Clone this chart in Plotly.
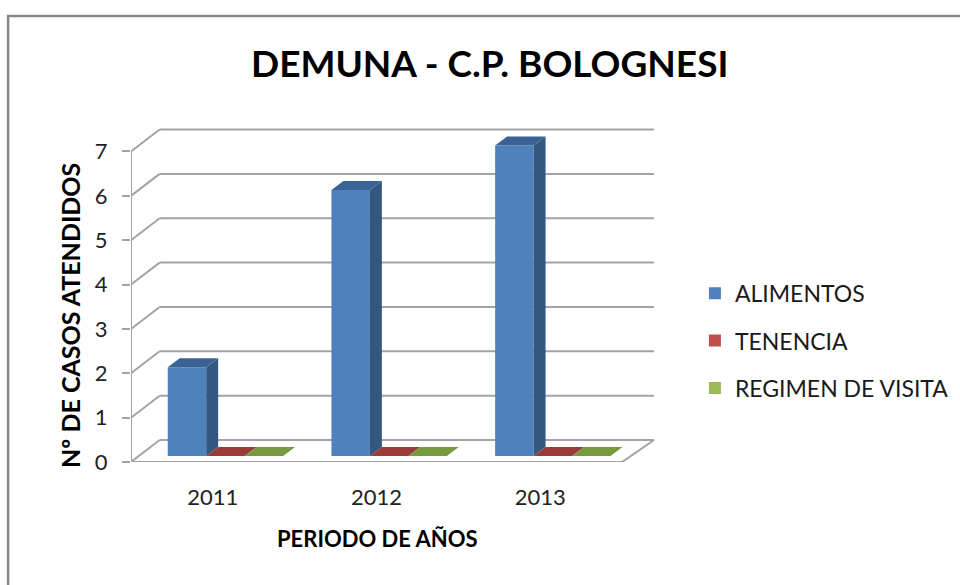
import plotly.graph_objects as go

# ---------------- data ----------------
categories = ["2011", "2012", "2013"]
series_names = ["ALIMENTOS", "TENENCIA", "REGIMEN DE VISITA"]
alimentos = [2, 6, 7]
tenencia = [0, 0, 0]
regimen_visita = [0, 0, 0]
y_ticks = [0, 1, 2, 3, 4, 5, 6, 7]

# ---------------- style ----------------
front_colors = ["#4F81BD", "#C0504D", "#9BBB59"]
side_colors = ["#34577F", "#8A3432", "#6C8537"]
top_colors = ["#3B6295", "#9B3B39", "#789A3E"]
grid_color = "#A3A3A3"
FONT = "Lato"

W_DEPTH_U, W_DEPTH_V = 0.175, 0.495      # full wall depth (x units, y units)
B_OFF_U, B_OFF_V = 0.047, 0.134          # bar front plane offset
B_DEP_U, B_DEP_V = 0.073, 0.203          # bar depth
BAR_W = 0.235
GROUP_SHIFT = 0.03

values = [alimentos, tenencia, regimen_visita]
n_cat = len(categories)
ymax = max(y_ticks)

fig = go.Figure()

# front faces (real bars)
for s, (name, vals) in enumerate(zip(series_names, values)):
    xs = [c + 0.5 + GROUP_SHIFT + (s - 1) * BAR_W + B_OFF_U for c in range(n_cat)]
    fig.add_trace(go.Bar(
        x=xs, y=vals, base=B_OFF_V, width=BAR_W, name=name,
        marker=dict(color=front_colors[s], line=dict(width=0)),
        legendgroup=name, hoverinfo="skip"))

# side and top faces
for s, vals in enumerate(values):
    sx, sy, tx, ty = [], [], [], []
    for c in range(n_cat):
        xc = c + 0.5 + GROUP_SHIFT + (s - 1) * BAR_W + B_OFF_U
        xl, xr = xc - BAR_W / 2, xc + BAR_W / 2
        b = B_OFF_V
        t = b + vals[c]
        if vals[c] > 0:
            sx += [xr, xr, xr + B_DEP_U, xr + B_DEP_U, xr, None]
            sy += [b, t, t + B_DEP_V, b + B_DEP_V, b, None]
        tx += [xl, xr, xr + B_DEP_U, xl + B_DEP_U, xl, None]
        ty += [t, t, t + B_DEP_V, t + B_DEP_V, t, None]
    if sx:
        fig.add_trace(go.Scatter(x=sx, y=sy, mode="lines", fill="toself",
                                 fillcolor=side_colors[s], line=dict(width=0),
                                 showlegend=False, hoverinfo="skip"))
    fig.add_trace(go.Scatter(x=tx, y=ty, mode="lines", fill="toself",
                             fillcolor=top_colors[s], line=dict(width=0),
                             showlegend=False, hoverinfo="skip"))

# walls / gridlines (shapes below the traces)
shapes = []
gl = dict(color=grid_color, width=2)
for k in y_ticks:
    shapes.append(dict(type="line", xref="x", yref="y", layer="below",
                       x0=0, y0=k, x1=W_DEPTH_U, y1=k + W_DEPTH_V, line=gl))
    shapes.append(dict(type="line", xref="x", yref="y", layer="below",
                       x0=W_DEPTH_U, y0=k + W_DEPTH_V, x1=n_cat + W_DEPTH_U + 0.02,
                       y1=k + W_DEPTH_V, line=gl))
# front vertical axis
shapes.append(dict(type="line", xref="x", yref="y", layer="below",
                   x0=0, y0=0, x1=0, y1=ymax, line=gl))
# floor front and right edges
shapes.append(dict(type="line", xref="x", yref="y", layer="below",
                   x0=0, y0=0, x1=n_cat, y1=0, line=gl))
shapes.append(dict(type="line", xref="x", yref="y", layer="below",
                   x0=n_cat, y0=0, x1=n_cat + W_DEPTH_U + 0.02, y1=W_DEPTH_V, line=gl))
# chart border
shapes.append(dict(type="rect", xref="paper", yref="paper", layer="below",
                   x0=-0.231, y0=-1.5, x1=2.0, y1=1.289,
                   line=dict(color="#878787", width=2.5)))

annotations = [
    dict(text="<b>DEMUNA - C.P. BOLOGNESI</b>", xref="paper", yref="paper",
         x=0.673, y=1.156, showarrow=False, xanchor="center", yanchor="middle",
         font=dict(family=FONT, size=37, color="#000000")),
    dict(text="<b>Nº DE CASOS ATENDIDOS</b>", xref="paper", yref="paper",
         x=-0.1147, y=0.425, showarrow=False, textangle=-90,
         xanchor="center", yanchor="middle",
         font=dict(family=FONT, size=25, color="#000000")),
    dict(text="<b>PERIODO DE AÑOS</b>", xref="paper", yref="paper",
         x=0.4633, y=-0.2197, showarrow=False, xanchor="center", yanchor="middle",
         font=dict(family=FONT, size=22, color="#000000")),
]

fig.update_layout(
    width=960, height=585,
    margin=dict(l=131, r=297, t=116, b=123, autoexpand=False),
    paper_bgcolor="white", plot_bgcolor="white",
    barmode="overlay",
    shapes=shapes, annotations=annotations,
    showlegend=True,
    legend=dict(x=1.06, y=0.55, xanchor="left", yanchor="top",
                font=dict(family=FONT, size=23, color="#1a1a1a"),
                tracegroupgap=14.5, bgcolor="rgba(0,0,0,0)"),
    xaxis=dict(range=[0, 3.25], showgrid=False, zeroline=False, showline=False,
               tickvals=[c + 0.5 for c in range(n_cat)], ticktext=categories,
               ticks="outside", ticklen=16, tickcolor="rgba(0,0,0,0)",
               tickfont=dict(family=FONT, size=22, color="#222222"),
               fixedrange=True),
    yaxis=dict(range=[0, 7.8], showgrid=False, zeroline=False, showline=False,
               tickvals=y_ticks, ticks="outside", ticklen=8, tickwidth=2,
               tickcolor=grid_color, ticklabelstandoff=10,
               tickfont=dict(family=FONT, size=22, color="#222222"),
               fixedrange=True),
)

fig.write_html("out.html", config={"displayModeBar": False},
               post_script="document.body.style.margin='0px';")
